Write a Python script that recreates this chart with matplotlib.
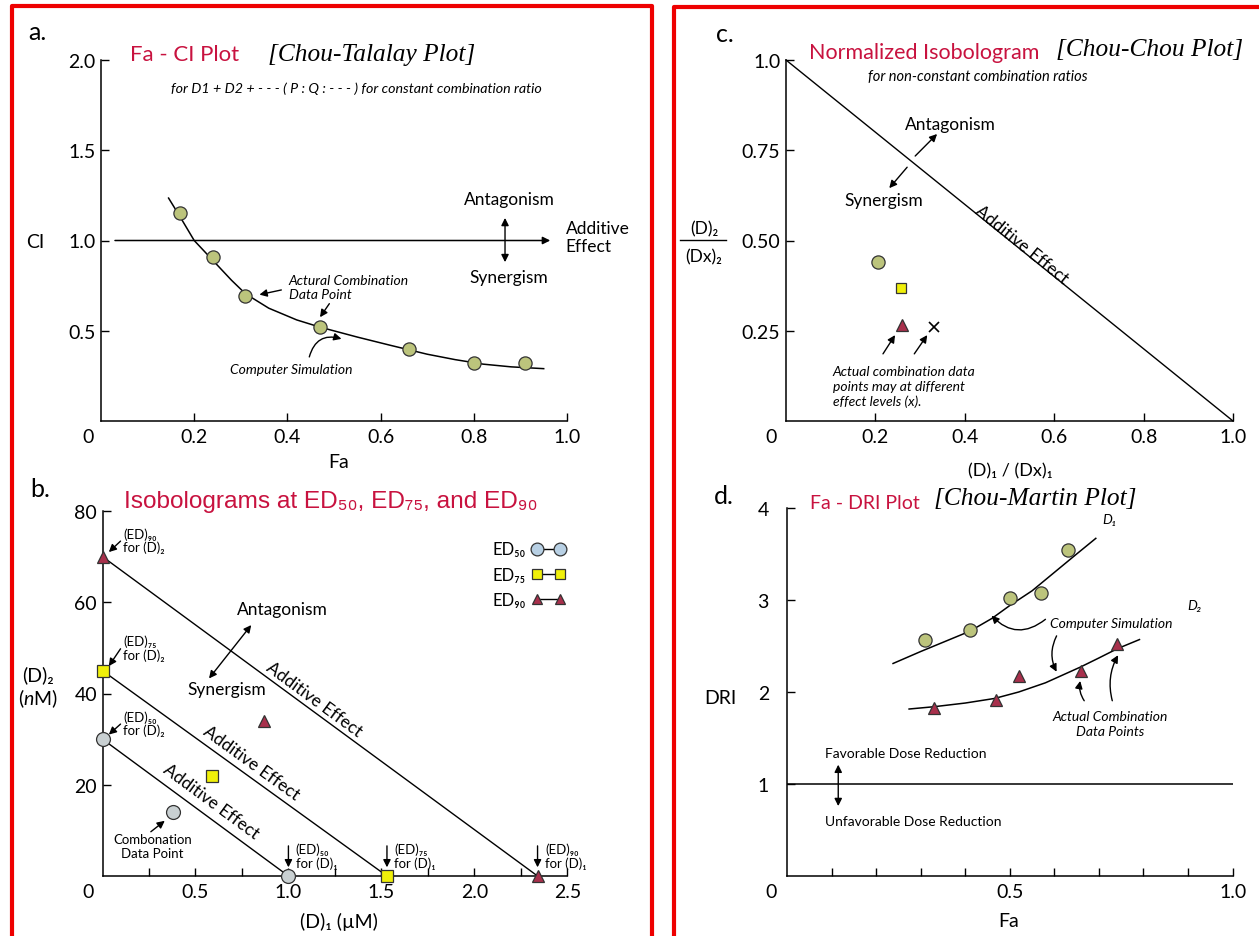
import numpy as np
import matplotlib
matplotlib.use("Agg")
import matplotlib.pyplot as plt
from matplotlib.lines import Line2D

plt.rcParams["font.family"] = ["Lato", "DejaVu Sans"]
plt.rcParams["mathtext.fontset"] = "custom"
plt.rcParams["mathtext.rm"] = "Lato"
plt.rcParams["mathtext.it"] = "Lato:italic"

# ---------------- data ----------------
# a. Fa - CI plot
ci_fa = [0.17, 0.24, 0.31, 0.47, 0.66, 0.80, 0.91]
ci_val = [1.15, 0.91, 0.69, 0.52, 0.40, 0.32, 0.32]
ci_sim_fa = [0.145, 0.17, 0.20, 0.24, 0.28, 0.31, 0.36, 0.42, 0.47, 0.55, 0.62, 0.70, 0.76, 0.82, 0.88, 0.95]
ci_sim_val = [1.235, 1.13, 1.00, 0.89, 0.78, 0.705, 0.625, 0.56, 0.52, 0.465, 0.42, 0.37, 0.34, 0.315, 0.30, 0.29]

# b. isobolograms (D1 in uM, D2 in nM)
iso_levels = ["ED₅₀", "ED₇₅", "ED₉₀"]
iso_d1 = [1.00, 1.53, 2.34]
iso_d2 = [30, 45, 70]
combo_d1 = [0.38, 0.59, 0.87]
combo_d2 = [14, 22, 34]

# c. normalized isobologram
norm_d1 = [0.205, 0.257, 0.26, 0.33]
norm_d2 = [0.44, 0.368, 0.266, 0.26]

# d. Fa - DRI plot
dri1_fa = [0.31, 0.41, 0.50, 0.57, 0.63]
dri1_val = [2.57, 2.67, 3.02, 3.08, 3.54]
dri1_sim_fa = [0.238, 0.30, 0.35, 0.41, 0.46, 0.50, 0.55, 0.60, 0.65, 0.693]
dri1_sim_val = [2.31, 2.44, 2.54, 2.66, 2.80, 2.94, 3.10, 3.30, 3.50, 3.67]
dri2_fa = [0.33, 0.47, 0.52, 0.66, 0.74]
dri2_val = [1.83, 1.91, 2.17, 2.23, 2.52]
dri2_sim_fa = [0.274, 0.33, 0.40, 0.466, 0.52, 0.58, 0.658, 0.70, 0.741, 0.791]
dri2_sim_val = [1.815, 1.84, 1.88, 1.93, 2.00, 2.10, 2.27, 2.37, 2.47, 2.57]

# ---------------- styles ----------------
TITLE = "#c8123f"
OLIVE = "#bcc47c"
YELLOW = "#f0f00a"
CRIM = "#a8304c"
GREY = "#c9d0d2"
LBLUE = "#b8d0e4"
EDGE = "#333333"
RED = "#ee0000"
SERIF = "Liberation Serif"

W, H = 1259, 937
fig = plt.figure(figsize=(W / 100, H / 100), dpi=100)
fig.patch.set_facecolor("white")


def box(x0, x1, ybot, ytop):
    return fig.add_axes([x0 / W, 1 - ybot / H, (x1 - x0) / W, (ybot - ytop) / H])


def ftext(x, y, s, **kw):
    kw.setdefault("ha", "left")
    kw.setdefault("va", "center")
    fig.text(x / W, 1 - y / H, s, **kw)


def arrow(ax, start, tip, style="-|>", rad=0.0, lw=1.0):
    ax.annotate("", xy=tip, xytext=start, annotation_clip=False,
                arrowprops=dict(arrowstyle=style, color="black", lw=lw,
                                shrinkA=0, shrinkB=0, mutation_scale=11,
                                connectionstyle=f"arc3,rad={rad}"))


def line_angle(ax, p0, p1):
    (x0, y0), (x1, y1) = ax.transData.transform([p0, p1])
    return np.degrees(np.arctan2(y1 - y0, x1 - x0))


def style_axes(ax, xlim, ylim, xticks, xlabels, yticks, ylabels, ypad=4):
    ax.set_xlim(xlim)
    ax.set_ylim(ylim)
    ax.patch.set_alpha(0)
    for s in ("top", "right"):
        ax.spines[s].set_visible(False)
    for s in ("left", "bottom"):
        ax.spines[s].set_linewidth(1.1)
    ax.set_xticks(xticks)
    ax.set_xticklabels(xlabels)
    ax.set_yticks(yticks)
    ax.set_yticklabels(ylabels)
    ax.tick_params(direction="in", length=6, width=1.0, labelsize=14)
    ax.tick_params(axis="x", pad=5)
    ax.tick_params(axis="y", pad=ypad)


# red frames
fig.add_artist(Line2D([11.7 / W, 11.7 / W, 651.7 / W, 651.7 / W], [0, 1 - 7.3 / H, 1 - 7.3 / H, 0],
                      transform=fig.transFigure, color=RED, lw=3))
fig.add_artist(Line2D([674 / W, 674 / W, 1.01], [0, 1 - 8 / H, 1 - 8 / H],
                      transform=fig.transFigure, color=RED, lw=3))

# ================= a. Fa - CI plot =================
ax = box(101, 567, 422, 61)
style_axes(ax, (0, 1), (0, 2), [0.2, 0.4, 0.6, 0.8, 1.0], ["0.2", "0.4", "0.6", "0.8", "1.0"],
           [0.5, 1.0, 1.5, 2.0], ["0.5", "1.0", "1.5", "2.0"])
ax.plot(ci_sim_fa, ci_sim_val, color="black", lw=1.1, clip_on=False, zorder=2)
ax.plot(ci_fa, ci_val, "o", ms=9.5, mfc=OLIVE, mec=EDGE, mew=0.9, clip_on=False, zorder=3)
arrow(ax, (0.03, 1.0), (0.964, 1.0), lw=1.1)
arrow(ax, (0.867, 0.88), (0.867, 1.125), style="<|-|>")
ax.text(0.876, 1.23, "Antagonism", ha="center", va="center", fontsize=12.5)
ax.text(0.876, 0.80, "Synergism", ha="center", va="center", fontsize=12.5)
ax.text(0.997, 1.02, "Additive\nEffect", ha="left", va="center", fontsize=12.5, linespacing=1.15)
ax.text(0.403, 0.74, "Actural Combination\nData Point", ha="left", va="center",
        fontsize=10, style="italic", linespacing=1.2)
arrow(ax, (0.387, 0.726), (0.34, 0.70))
arrow(ax, (0.49, 0.65), (0.47, 0.575))
ax.text(0.408, 0.29, "Computer Simulation", ha="center", va="center", fontsize=10, style="italic")
arrow(ax, (0.447, 0.355), (0.516, 0.455), rad=-0.5)

ftext(28, 33, "a.", fontsize=18)
ftext(130, 55, "Fa - CI Plot", fontsize=16, color=TITLE)
ftext(268, 55, "[Chou-Talalay Plot]", fontsize=18.3, family=SERIF, style="italic")
ftext(171, 89, "for D1 + D2 + - - - ( P : Q : - - - ) for constant combination ratio",
      fontsize=10.3, style="italic")
ftext(35, 243, "CI", fontsize=14, ha="center")
ftext(339, 463, "Fa", fontsize=14, ha="center")
ftext(88, 438, "0", fontsize=14, ha="center")

# ================= b. isobolograms =================
ax = box(102.5, 567.3, 877, 512)
style_axes(ax, (0, 2.5), (0, 80), np.arange(0.25, 2.51, 0.25),
           ["", "0.5", "", "1.0", "", "1.5", "", "2.0", "", "2.5"],
           [20, 40, 60, 80], ["20", "40", "60", "80"])
iso_styles = [dict(marker="o", mfc=GREY, ms=10), dict(marker="s", mfc=YELLOW, ms=8),
              dict(marker="^", mfc=CRIM, ms=8.5)]
handles = []
for d1, d2, st, cd1, cd2, lab in zip(iso_d1, iso_d2, iso_styles, combo_d1, combo_d2, iso_levels):
    ax.plot([0, d1], [d2, 0], color="black", lw=1.0, zorder=2, clip_on=False)
    ax.plot([0, d1], [d2, 0], linestyle="none", mec=EDGE, mew=0.9, clip_on=False, zorder=4, **st)
    ax.plot([cd1], [cd2], linestyle="none", mec=EDGE, mew=0.9, clip_on=False, zorder=4, **st)
    hst = dict(st)
    hst["ms"] = st["ms"] * 0.92
    if hst["marker"] == "o":
        hst["mfc"] = LBLUE
    handles.append(Line2D([], [], color="black", lw=1.0, mec=EDGE, mew=0.9, **hst))
    # arrows/labels for single-drug doses
    arrow(ax, (d1, 6.6), (d1, 1.9))
    ax.text(d1 + 0.04, 4.4, "(ED)" + lab[2:] + "\nfor (D)₁", ha="left", va="center",
            fontsize=9.5, linespacing=1.1)

ax.legend(handles, iso_levels, numpoints=2, markerfirst=False, frameon=False, fontsize=12,
          handlelength=2.0, handletextpad=0.35, labelspacing=0.55, borderaxespad=0,
          loc="upper right", bbox_to_anchor=(1.01, 0.935))

for d2, lab, ylab in zip(iso_d2, iso_levels, [33.5, 50.0, 73.6]):
    ax.text(0.112, ylab, "(ED)" + lab[2:] + "\nfor (D)₂", ha="left", va="center",
            fontsize=9.5, linespacing=1.1)
    arrow(ax, (0.097, ylab - 0.2), (0.034, d2 + 1.0))

for d1, d2, (tx, ty) in zip(iso_d1, iso_d2, [(0.584, 16.5), (0.80, 24.9), (1.136, 38.8)]):
    ang = line_angle(ax, (0, d2), (d1, 0))
    ax.text(tx, ty, "Additive Effect", rotation=ang, rotation_mode="anchor",
            ha="center", va="center", fontsize=12.5)

ax.text(0.969, 58.5, "Antagonism", ha="center", va="center", fontsize=12.5)
ax.text(0.671, 41.0, "Synergism", ha="center", va="center", fontsize=12.5)
arrow(ax, (0.573, 43.3), (0.80, 55.0), style="<|-|>")
ax.text(0.27, 6.6, "Combonation\nData Point", ha="center", va="center", fontsize=9.5, linespacing=1.2)
arrow(ax, (0.26, 9.7), (0.335, 12.1))

ftext(30, 490, "b.", fontsize=18)
ftext(124, 502, "Isobolograms at ED₅₀, ED₇₅, and ED₉₀", fontsize=17.6, color=TITLE,
      family=["Liberation Sans", "DejaVu Sans"])
ftext(38, 688, "(D)₂\n($\\mathit{n}$M)", fontsize=14, ha="center", linespacing=1.2)
ftext(339, 922, "(D)₁ (µM)", fontsize=14, ha="center")
ftext(88, 893, "0", fontsize=14, ha="center")

# ================= c. normalized isobologram =================
ax = box(786, 1233, 422, 61)
style_axes(ax, (0, 1), (0, 1), [0.2, 0.4, 0.6, 0.8, 1.0], ["0.2", "0.4", "0.6", "0.8", "1.0"],
           [0.25, 0.5, 0.75, 1.0], ["0.25", "0.50", "0.75", "1.0"])
ax.plot([0, 1], [1, 0], color="black", lw=1.0, clip_on=False)
norm_styles = [dict(marker="o", mfc=OLIVE, ms=9.5), dict(marker="s", mfc=YELLOW, ms=7.5),
               dict(marker="^", mfc=CRIM, ms=8), dict(marker="x", mfc="none", ms=7.5)]
for x, y, st in zip(norm_d1, norm_d2, norm_styles):
    if st["marker"] == "x":
        ax.plot([x], [y], linestyle="none", color="black", mew=1.2, clip_on=False, **st)
    else:
        ax.plot([x], [y], linestyle="none", mec=EDGE, mew=0.9, clip_on=False, **st)
arrow(ax, (0.217, 0.186), (0.244, 0.238))
arrow(ax, (0.287, 0.186), (0.316, 0.238))
ax.text(0.105, 0.097, "Actual combination data\npoints may at different\neffect levels (x).",
        ha="left", va="center", fontsize=10, style="italic", linespacing=1.25)
ax.text(0.367, 0.823, "Antagonism", ha="center", va="center", fontsize=12.5)
ax.text(0.219, 0.612, "Synergism", ha="center", va="center", fontsize=12.5)
arrow(ax, (0.289, 0.734), (0.338, 0.795))
arrow(ax, (0.271, 0.703), (0.231, 0.645))
ax.text(0.527, 0.49, "Additive Effect", rotation=line_angle(ax, (0, 1), (1, 0)),
        rotation_mode="anchor", ha="center", va="center", fontsize=12.5)

ftext(716, 34, "c.", fontsize=18)
ftext(809, 53, "Normalized Isobologram", fontsize=15.5, color=TITLE)
ftext(1056, 50, "[Chou-Chou Plot]", fontsize=18.3, family=SERIF, style="italic")
ftext(868, 77, "for non-constant combination ratios", fontsize=10.5, style="italic")
ftext(704, 229, "(D)₂", fontsize=12.5, ha="center")
ftext(704, 257, "(Dx)₂", fontsize=12.5, ha="center")
fig.add_artist(Line2D([680 / W, 726 / W], [1 - 241 / H, 1 - 241 / H], transform=fig.transFigure,
                      color="black", lw=1.0))
ftext(771, 438, "0", fontsize=14, ha="center")
ftext(1010, 471, "(D)₁ / (Dx)₁", fontsize=13, ha="center")

# ================= d. Fa - DRI plot =================
ax = box(787, 1232.6, 877, 509)
style_axes(ax, (0, 1), (0, 4), np.round(np.arange(0.1, 1.01, 0.1), 1),
           ["", "", "", "", "0.5", "", "", "", "", "1.0"],
           [1, 2, 3, 4], ["1", "2", "3", "4"], ypad=13)
ax.plot([0, 1], [1, 1], color="black", lw=1.1)
ax.plot(dri1_sim_fa, dri1_sim_val, color="black", lw=1.1, clip_on=False)
ax.plot(dri2_sim_fa, dri2_sim_val, color="black", lw=1.1, clip_on=False)
ax.plot(dri1_fa, dri1_val, "o", ms=9.5, mfc=OLIVE, mec=EDGE, mew=0.9, clip_on=False)
ax.plot(dri2_fa, dri2_val, "^", ms=8.5, mfc=CRIM, mec=EDGE, mew=0.9, clip_on=False)
ax.text(0.725, 3.88, "D₁", ha="center", va="center", fontsize=10, style="italic")
ax.text(0.915, 2.95, "D₂", ha="center", va="center", fontsize=10, style="italic")
ax.text(0.59, 2.75, "Computer Simulation", ha="left", va="center", fontsize=10, style="italic")
arrow(ax, (0.58, 2.79), (0.459, 2.83), rad=-0.45)
arrow(ax, (0.605, 2.61), (0.605, 2.22), rad=0.25)
ax.text(0.725, 1.66, "Actual Combination\nData Points", ha="center", va="center",
        fontsize=10, style="italic", linespacing=1.25)
arrow(ax, (0.667, 1.905), (0.658, 2.12), rad=-0.2)
arrow(ax, (0.73, 1.905), (0.743, 2.40), rad=-0.2)
ax.text(0.085, 1.34, "Favorable Dose Reduction", ha="left", va="center", fontsize=10)
ax.text(0.085, 0.60, "Unfavorable Dose Reduction", ha="left", va="center", fontsize=10)
arrow(ax, (0.115, 0.76), (0.115, 1.21), style="<|-|>")

ftext(714, 497, "d.", fontsize=18)
ftext(810, 504, "Fa - DRI Plot", fontsize=14, color=TITLE)
ftext(934, 499, "[Chou-Martin Plot]", fontsize=18.3, family=SERIF, style="italic")
ftext(720, 698, "DRI", fontsize=14, ha="center")
ftext(771, 893, "0", fontsize=14, ha="center")
ftext(1009, 922, "Fa", fontsize=14, ha="center")

fig.savefig("out.png", dpi=100, facecolor="white")
